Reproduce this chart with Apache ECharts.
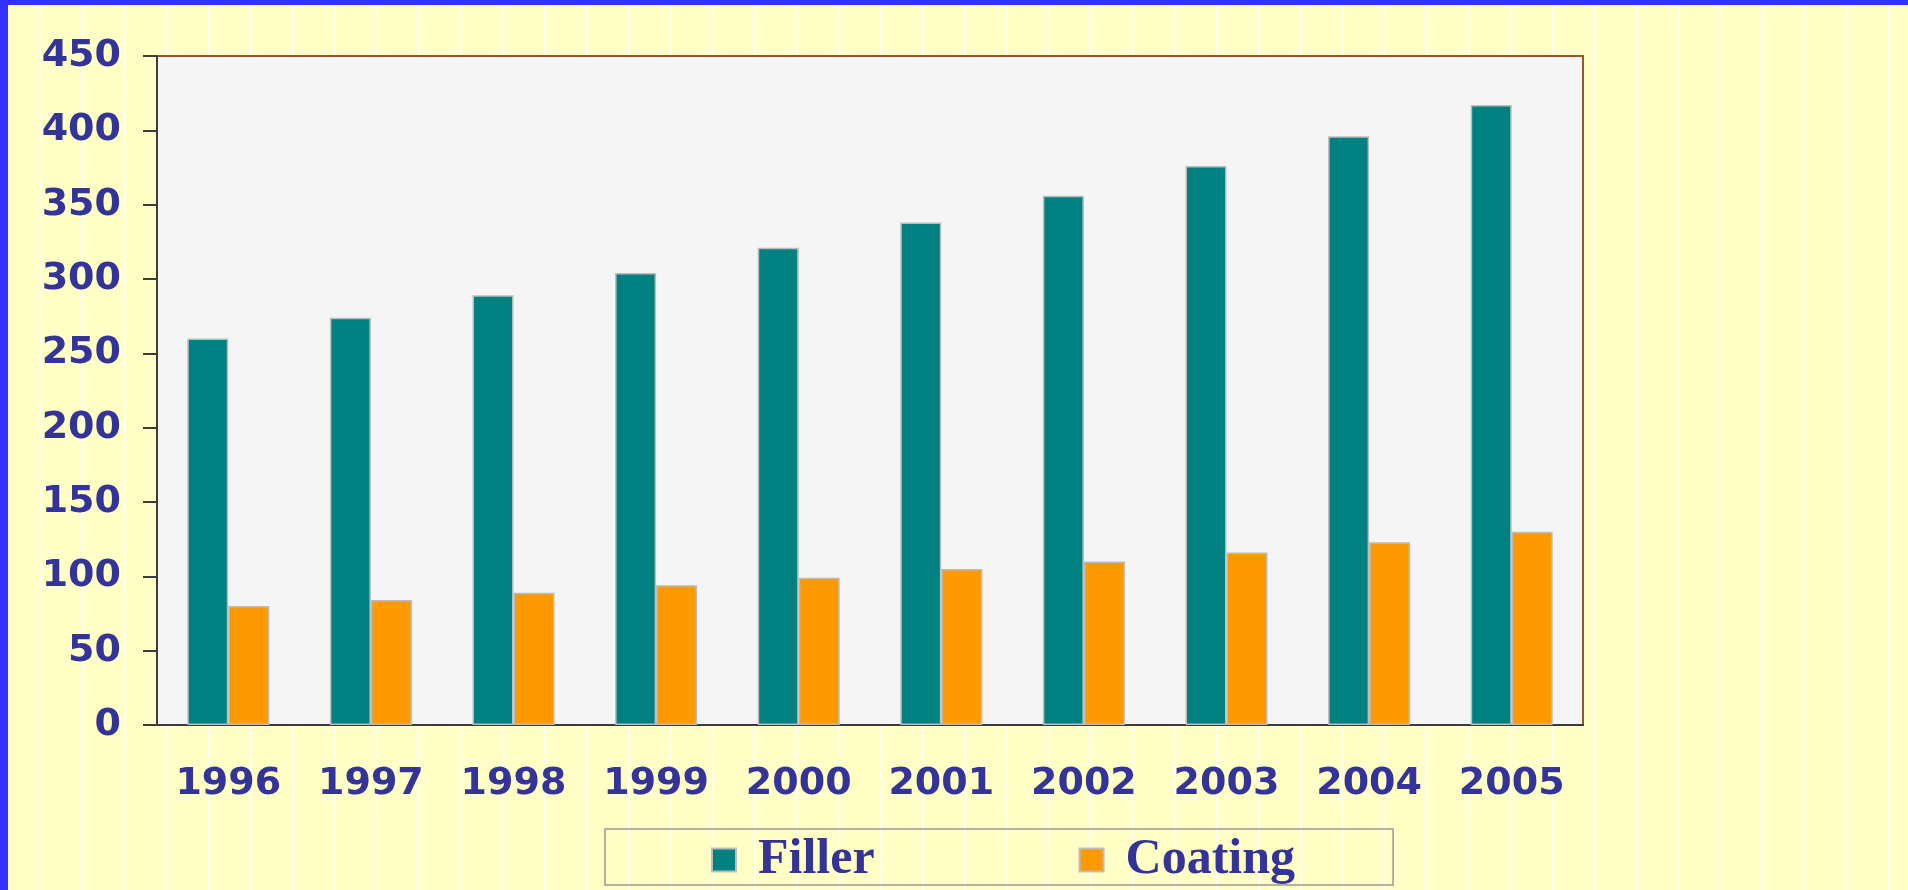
<!DOCTYPE html>
<html>
<head>
<meta charset="utf-8">
<title>Filler / Coating</title>
<script src="https://cdn.jsdelivr.net/npm/echarts@6/dist/echarts.min.js"></script>
<style>
  html, body {
    margin: 0;
    padding: 0;
    width: 1908px;
    height: 890px;
    overflow: hidden;
  }
  body {
    background: repeating-linear-gradient(90deg, #ffffc6 0px, #ffffc6 40px, #fffff0 40px, #fffff0 42px);
  }
  .frame {
    position: absolute;
    left: 0;
    top: 0;
    width: 1900px;
    height: 885px;
    border-top: 5px solid #3333ff;
    border-left: 8px solid #3333ff;
  }
  .com-chart {
    position: absolute;
    left: 0;
    top: 0;
    width: 1908px;
    height: 890px;
  }
</style>
</head>
<body>
<div class="frame"></div>
<div class="com-chart" id="chart"></div>
<script>
// data
const years = ['1996', '1997', '1998', '1999', '2000', '2001', '2002', '2003', '2004', '2005']
const filler = [260, 274, 289, 304, 321, 338, 356, 376, 396, 417]
const coating = [80, 84, 89, 94, 99, 105, 110, 116, 123, 130]

const textColor = '#333399'

const chartInstance = echarts.init(document.getElementById('chart'))
const initOption = {
  animation: false,
  grid: {
    left: 157,
    right: 325,
    top: 56,
    bottom: 165,
    show: true,
    backgroundColor: '#f5f5f5',
    borderColor: '#a0522d',
    borderWidth: 2,
  },
  legend: {
    left: 605,
    top: 829,
    padding: [6, 98, 0, 106],
    itemWidth: 24,
    itemHeight: 23,
    itemGap: 204,
    borderColor: '#999999',
    borderWidth: 1.5,
    icon: 'rect',
    textStyle: {
      color: textColor,
      fontFamily: 'Liberation Serif',
      fontWeight: 'bold',
      fontSize: 50,
      padding: [0, 0, 0, 17],
    },
  },
  xAxis: {
    type: 'category',
    data: years,
    axisLine: {
      lineStyle: { color: '#3c3c3c', width: 2 },
    },
    axisTick: {
      length: 12,
      lineStyle: { color: '#3c3c3c', width: 2 },
    },
    axisLabel: {
      margin: 40,
      color: textColor,
      fontFamily: 'DejaVu Sans',
      fontWeight: 'bold',
      fontSize: 38,
    },
  },
  yAxis: {
    type: 'value',
    min: 0,
    max: 450,
    interval: 50,
    splitLine: { show: false },
    axisLine: {
      show: true,
      lineStyle: { color: '#3c3c3c', width: 2 },
    },
    axisTick: {
      show: true,
      length: 14,
      lineStyle: { color: '#3c3c3c', width: 2 },
    },
    axisLabel: {
      margin: 36,
      color: textColor,
      fontFamily: 'DejaVu Sans',
      fontWeight: 'bold',
      fontSize: 38,
    },
  },
  series: [
    {
      name: 'Filler',
      type: 'bar',
      data: filler,
      barWidth: 41,
      barGap: '0%',
      itemStyle: {
        color: '#008080',
        borderColor: '#bcbcbc',
        borderWidth: 1.5,
      },
    },
    {
      name: 'Coating',
      type: 'bar',
      data: coating,
      barWidth: 41,
      barGap: '0%',
      itemStyle: {
        color: '#ff9900',
        borderColor: '#bcbcbc',
        borderWidth: 1.5,
      },
    },
  ],
}
chartInstance.setOption(initOption)
</script>
</body>
</html>
